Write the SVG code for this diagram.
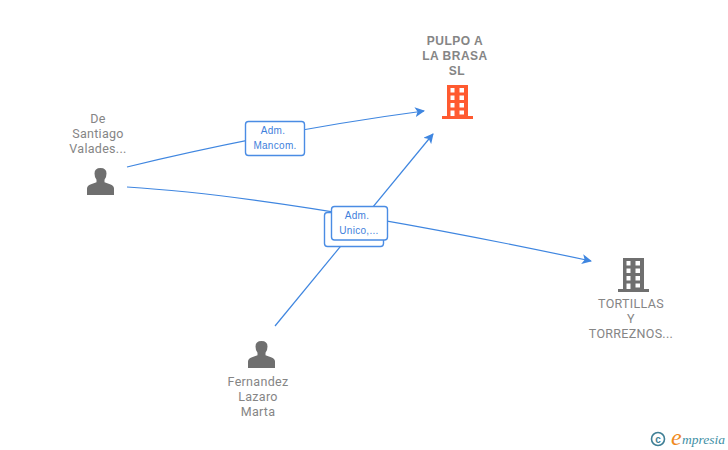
<svg xmlns="http://www.w3.org/2000/svg" width="728" height="450" viewBox="0 0 728 450">
<style>
.lbl{font-family:Roboto,"Liberation Sans",sans-serif;font-size:12.500px;fill:#858585;text-anchor:middle;letter-spacing:.3px}
.bold{font-family:"Liberation Sans",Arial,sans-serif;font-size:12px;font-weight:700;letter-spacing:.5px}
.edge{fill:none;stroke:#3f86e0;stroke-width:1.2;marker-end:url(#arr)}
.box{fill:#fff;stroke:#4a8ce4;stroke-width:1.4}
.tag{font-family:"Liberation Sans",Arial,sans-serif;font-size:10px;fill:#3f7fdc;text-anchor:middle;letter-spacing:.3px}
</style>
<defs>
<marker id="arr" viewBox="0 0 10 10" refX="9" refY="5" markerWidth="10" markerHeight="10" markerUnits="userSpaceOnUse" orient="auto"><path d="M0 0L10 5L0 10L2.500 5Z" fill="#3f86e0"/></marker>
<g id="person"><path d="M0 27V20.500Q0 17.500 4 16.200L9.500 14.200V11.800Q7.500 9.500 7.500 5.500Q7.500 0 13.500 0Q19.500 0 19.500 5.500Q19.500 9.500 17.500 11.800V14.200L23 16.200Q27 17.500 27 20.500V27Z" fill="#6f6f6f"/></g>
<g id="building"><path fill-rule="evenodd" d="M5 0H26V31H31V34H0V31H5ZM8.500 3V7.500H12.500V3ZM17.500 3V7.500H22V3ZM8.500 10.500V15H12.500V10.500ZM17.500 10.500V15H22V10.500ZM8.500 18V22.500H12.500V18ZM17.500 18V22.500H22V18ZM8.500 25.500V31H12.500V25.500ZM17.500 25.500V29.500H22V25.500Z"/></g>
</defs>
<g id="connectors">
<path class="edge" d="M127 167Q280 130 424 111"/>
<path class="edge" d="M127 187Q290 197 591 261"/>
<path class="edge" d="M275 326L433 134"/>
</g>
<g id="edge-label-1"><rect class="box" x="245.500" y="121.500" width="59" height="34" rx="3"/><text class="tag" x="273" y="134">Adm.</text><text class="tag" x="275" y="149">Mancom.</text></g>
<g id="edge-label-2"><rect class="box" x="324.500" y="212.500" width="59" height="34" rx="3"/><rect class="box" x="331.500" y="206.500" width="56" height="33.500" rx="3"/><text class="tag" x="357" y="219">Adm.</text><text class="tag" x="359" y="234">Unico,...</text></g>
<g id="node-pulpo"><text class="lbl bold" x="455" y="45">PULPO A</text><text class="lbl bold" x="455" y="60">LA BRASA</text><text class="lbl bold" x="457" y="75">SL</text><use href="#building" x="442" y="85" fill="#ff5a30"/></g>
<g id="node-desantiago"><text class="lbl" x="98" y="123">De</text><text class="lbl" x="98" y="138">Santiago</text><text class="lbl" x="98" y="153">Valades...</text><use href="#person" x="87" y="168"/></g>
<g id="node-tortillas"><use href="#building" x="618" y="258" fill="#6f6f6f"/><text class="lbl" x="631" y="308">TORTILLAS</text><text class="lbl" x="631" y="323">Y</text><text class="lbl" x="631" y="338">TORREZNOS...</text></g>
<g id="node-fernandez"><use href="#person" x="248" y="341"/><text class="lbl" x="258" y="386">Fernandez</text><text class="lbl" x="258" y="401">Lazaro</text><text class="lbl" x="258" y="416">Marta</text></g>
<g id="logo"><circle cx="658" cy="439" r="6.500" fill="none" stroke="#3f7f95" stroke-width="1.600"/><text x="658" y="442.500" font-family="Liberation Sans,sans-serif" font-size="10" font-weight="700" fill="#3f7f95" text-anchor="middle">c</text><text x="671" y="445" font-family="Liberation Serif,serif" font-style="italic" font-size="24" fill="#f08a1d">e</text><text x="682" y="444" font-family="Liberation Serif,serif" font-style="italic" font-size="13.500" fill="#3f8fa5">mpresia</text></g>
</svg>
